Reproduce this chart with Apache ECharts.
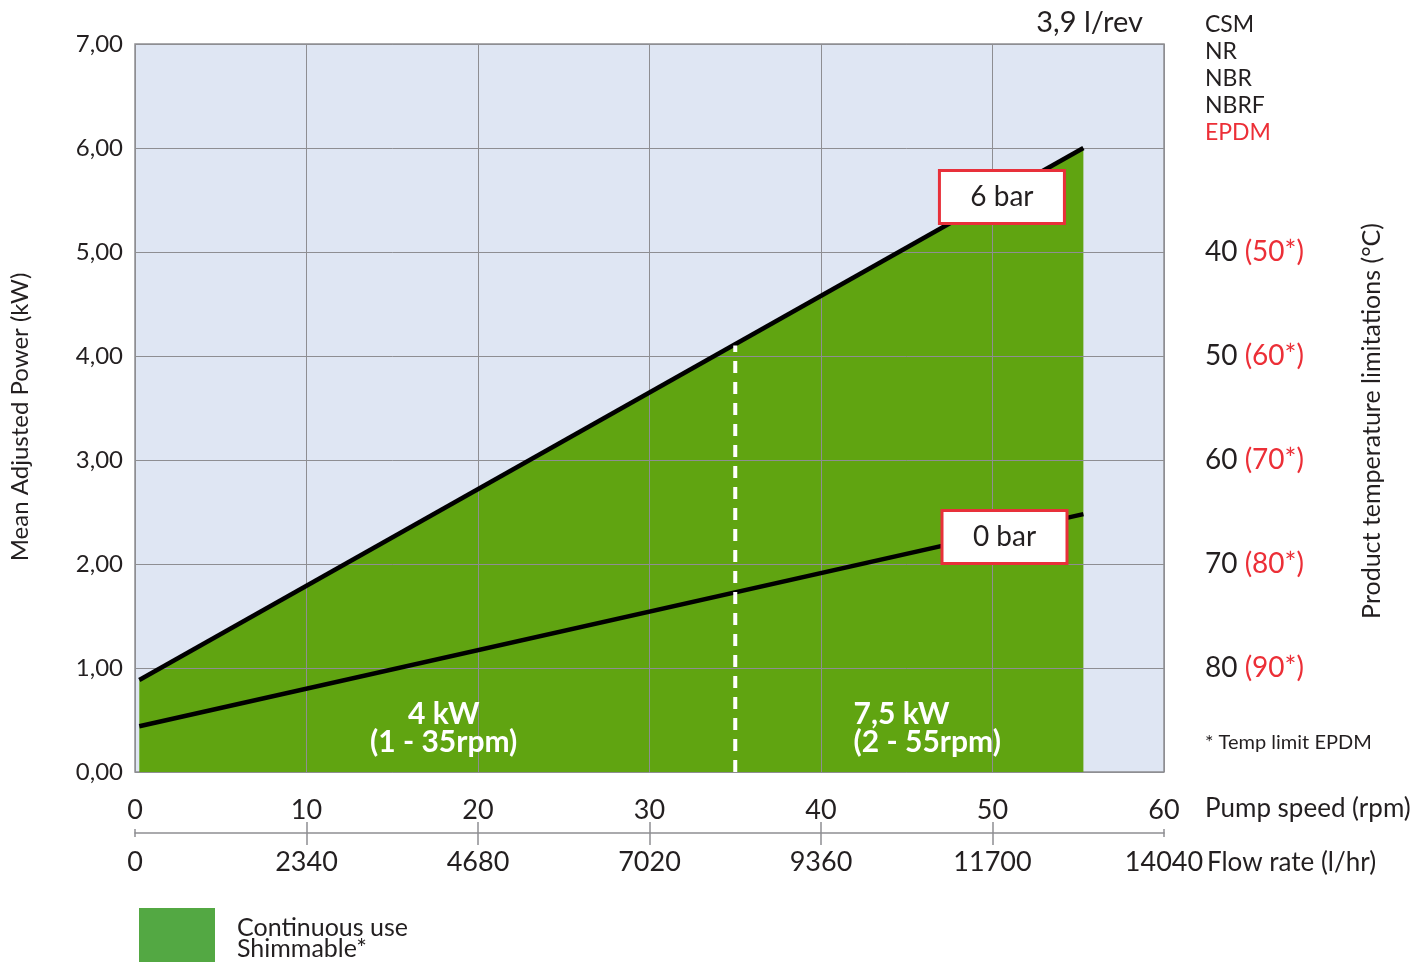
<!DOCTYPE html>
<html>
<head>
<meta charset="utf-8">
<script src="https://cdn.jsdelivr.net/npm/echarts@6/dist/echarts.min.js"></script>
<style>
html,body{margin:0;padding:0;background:#fff;}
#c{width:1427px;height:962px;}
</style>
</head>
<body>
<div id="c"></div>
<script>
// ---- data ----
const speed6bar = [0.25, 55.3];
const power6bar = [0.885, 6.0];
const speed0bar = [0.25, 55.3];
const power0bar = [0.44, 2.48];
const switchSpeed = [35, 35];
const switchPower = [0, 4.1];
const tempValues = [5, 4, 3, 2, 1];
const tempStd = ['40', '50', '60', '70', '80'];
const tempEpdm = ['50*', '60*', '70*', '80*', '90*'];
const flowMax = 14040;
const flowStep = 2340;
const flowMid = [2340, 4680, 7020, 9360, 11700];
const flowEnds = [0, 14040];
const zone1 = [18.0, 0.42];
const zone2 = [41.9, 0.42];
const box6 = [50.55, 5.53];
const box0 = [50.7, 2.26];

const FONT = 'Lato';
const TXT = '#231f20';
const RED = '#ec2f37';
const GRID = '#8e8e92';
const GREEN = '#60a411';

const chart = echarts.init(document.getElementById('c'));
const gridBox = {left: 135, top: 44, width: 1029, height: 728};

const boxLabel = (txt) => ({
  show: true, position: 'inside', formatter: txt, opacity: 1,
  backgroundColor: '#fff', borderColor: '#e8303a', borderWidth: 3,
  width: 122, height: 50, lineHeight: 50, align: 'center', verticalAlign: 'middle',
  fontFamily: FONT, fontSize: 28, color: TXT
});

const flowAxis = (extra) => Object.assign({
  type: 'value', min: 0, max: flowMax, interval: flowStep, position: 'bottom', offset: 61,
  splitLine: {show: false}, axisLabel: {show: false}, axisLine: {show: false, onZero: false}
}, extra);

chart.setOption({
  animation: false,
  textStyle: {fontFamily: FONT},
  grid: [Object.assign({show: true, backgroundColor: '#dfe6f3', borderColor: GRID, borderWidth: 1.5,
    containLabel: false, outerBoundsMode: 'none'}, gridBox)],
  legend: {
    left: 139, top: 908, padding: 0, itemWidth: 76, itemHeight: 60, icon: 'rect',
    data: [{name: 'Continuous use\nShimmable*', itemStyle: {color: '#53a843'}}],
    textStyle: {fontFamily: FONT, fontSize: 25, lineHeight: 21, color: TXT, padding: [5, 0, 0, 17]},
    selectedMode: false
  },
  xAxis: [
    {type: 'value', min: 0, max: 60, interval: 10, z: 3,
      axisLine: {show: false, onZero: false}, axisTick: {show: false},
      splitLine: {show: true, lineStyle: {color: GRID, width: 1}},
      axisLabel: {fontSize: 27, color: TXT, margin: 25, fontFamily: FONT}},
    flowAxis({
      axisLine: {show: true, onZero: false, lineStyle: {color: GRID, width: 1.5}},
      axisTick: {show: true, length: 12, inside: false, lineStyle: {color: GRID, width: 1.5}, customValues: flowMid},
      axisLabel: {show: true, fontSize: 27, color: TXT, margin: 16, fontFamily: FONT, formatter: v => String(v)}}),
    flowAxis({axisTick: {show: true, length: 11, inside: true, lineStyle: {color: GRID, width: 1.5}, customValues: flowMid}}),
    flowAxis({axisTick: {show: true, length: 4, inside: true, lineStyle: {color: GRID, width: 1.5}, customValues: flowEnds}}),
    flowAxis({axisTick: {show: true, length: 4, inside: false, lineStyle: {color: GRID, width: 1.5}, customValues: flowEnds}})
  ],
  yAxis: [
    {type: 'value', min: 0, max: 7, interval: 1, z: 3,
      axisLine: {show: false}, axisTick: {show: false},
      splitLine: {show: true, lineStyle: {color: GRID, width: 1}},
      axisLabel: {fontSize: 24, color: TXT, margin: 12, fontFamily: FONT,
        formatter: v => v.toFixed(2).replace('.', ',')}},
    {type: 'value', min: 0, max: 7, interval: 1, position: 'right',
      axisLine: {show: false}, axisTick: {show: false}, splitLine: {show: false},
      axisLabel: {margin: 41, fontFamily: FONT,
        formatter: v => {
          const i = tempValues.indexOf(v);
          return i < 0 ? '' : '{a|' + tempStd[i] + ' }{b|(' + tempEpdm[i] + ')}';
        },
        rich: {a: {fontSize: 28, color: TXT, fontFamily: FONT}, b: {fontSize: 28, color: RED, fontFamily: FONT}}}}
  ],
  series: [
    {name: 'Continuous use\nShimmable*', type: 'line', z: 2, symbol: 'none',
      data: speed6bar.map((x, i) => [x, power6bar[i]]),
      lineStyle: {width: 0}, areaStyle: {color: GREEN, opacity: 1}, itemStyle: {color: '#53a843'}},
    {type: 'line', z: 5, symbol: 'none', data: speed6bar.map((x, i) => [x, power6bar[i]]),
      lineStyle: {color: '#000', width: 4.5}},
    {type: 'line', z: 5, symbol: 'none', data: speed0bar.map((x, i) => [x, power0bar[i]]),
      lineStyle: {color: '#000', width: 4.5}},
    {type: 'line', z: 6, symbol: 'none', data: switchSpeed.map((x, i) => [x, switchPower[i]]),
      lineStyle: {color: '#fff', width: 4, type: [12, 9]}},
    {type: 'scatter', z: 8, symbolSize: 0, itemStyle: {opacity: 1}, data: [box6], label: boxLabel('6 bar')},
    {type: 'scatter', z: 8, symbolSize: 0, itemStyle: {opacity: 1}, data: [box0], label: boxLabel('0 bar')},
    {type: 'scatter', z: 8, symbolSize: 0, itemStyle: {opacity: 1}, data: [zone1],
      label: {show: true, position: 'inside', formatter: '4 kW\n(1 - 35rpm)', align: 'center', opacity: 1,
        fontFamily: FONT, fontWeight: 'bold', fontSize: 30, lineHeight: 28, color: '#fff'}},
    {type: 'scatter', z: 8, symbolSize: 0, itemStyle: {opacity: 1}, data: [zone2],
      label: {show: true, position: 'right', distance: 0, formatter: '7,5 kW\n(2 - 55rpm)', align: 'left', opacity: 1,
        fontFamily: FONT, fontWeight: 'bold', fontSize: 30, lineHeight: 28, color: '#fff'}}
  ],
  graphic: [
    {type: 'text', right: 1427 - 1143, top: 8, style: {text: '3,9 l/rev', font: '29px ' + FONT, fill: TXT}},
    {type: 'text', left: 1205, top: 13, style: {
      text: '{k|CSM}\n{k|NR}\n{k|NBR}\n{k|NBRF}\n{r|EPDM}',
      rich: {k: {fontSize: 23, lineHeight: 27, fill: TXT, fontFamily: FONT}, r: {fontSize: 23, lineHeight: 27, fill: RED, fontFamily: FONT}}}},
    {type: 'text', left: 1205, top: 733, style: {text: '* Temp limit EPDM', font: '20px ' + FONT, fill: TXT}},
    {type: 'text', left: 1205, top: 796, style: {text: 'Pump speed (rpm)', font: '26px ' + FONT, fill: TXT}},
    {type: 'text', left: 1207, top: 850, style: {text: 'Flow rate (l/hr)', font: '26px ' + FONT, fill: TXT}},
    {type: 'text', x: 20, y: 417, rotation: Math.PI / 2,
      style: {text: 'Mean Adjusted Power (kW)', font: '24px ' + FONT, fill: TXT, align: 'center', verticalAlign: 'middle'}},
    {type: 'text', x: 1372, y: 421, rotation: Math.PI / 2,
      style: {text: 'Product temperature limitations (°C)', font: '25px ' + FONT, fill: TXT, align: 'center', verticalAlign: 'middle'}}
  ]
});
</script>
</body>
</html>
